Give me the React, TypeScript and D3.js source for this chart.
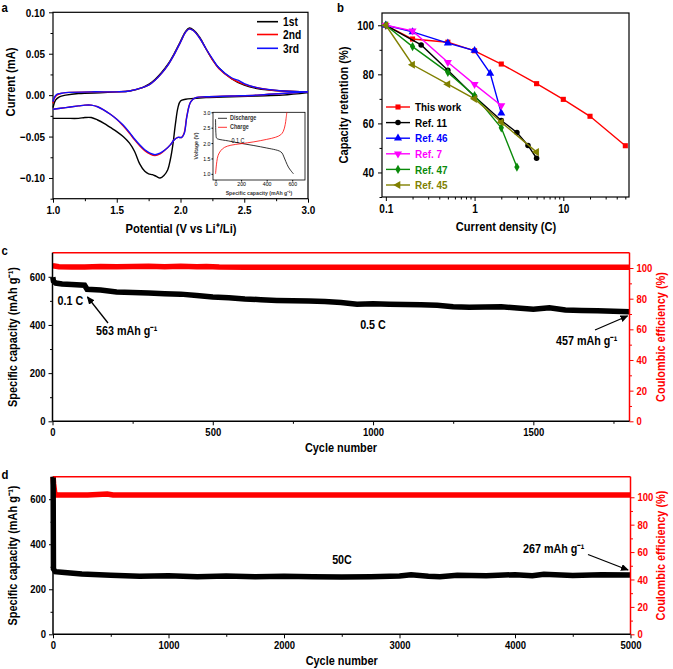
import React, { useEffect, useRef } from "react"
import * as d3 from "d3"

// ---- panel a: CV curves, [potential V, current mA]
const cv1stDown = [[3.0, 0.003], [2.8, 0.0], [2.6, -0.001], [2.4, -0.002], [2.2, -0.003], [2.1, -0.004], [2.04, -0.005], [2.0, -0.007], [1.98, -0.015], [1.96, -0.035], [1.94, -0.06], [1.92, -0.078], [1.9, -0.09], [1.87, -0.097], [1.84, -0.1], [1.81, -0.098], [1.78, -0.096], [1.75, -0.095], [1.72, -0.092], [1.68, -0.083], [1.64, -0.068], [1.6, -0.058], [1.55, -0.05], [1.5, -0.044], [1.45, -0.039], [1.4, -0.034], [1.35, -0.03], [1.3, -0.027], [1.25, -0.027], [1.2, -0.028], [1.1, -0.028], [1.0, -0.028]]
const cv1stUp = [[1.0, -0.015], [1.02, -0.006], [1.05, -0.002], [1.1, 0.0], [1.2, 0.002], [1.4, 0.003], [1.5, 0.004], [1.6, 0.005], [1.7, 0.009], [1.75, 0.013], [1.8, 0.019], [1.85, 0.027], [1.9, 0.037], [1.95, 0.05], [2.0, 0.065], [2.04, 0.077], [2.07, 0.081], [2.1, 0.079], [2.15, 0.07], [2.2, 0.056], [2.25, 0.043], [2.3, 0.033], [2.4, 0.02], [2.5, 0.012], [2.6, 0.008], [2.8, 0.005], [3.0, 0.004]]
const cv2ndDown = [[3.0, 0.004], [2.8, 0.002], [2.6, 0.0], [2.4, -0.001], [2.2, -0.002], [2.12, -0.003], [2.08, -0.008], [2.05, -0.025], [2.03, -0.045], [2.01, -0.051], [1.98, -0.051], [1.95, -0.054], [1.92, -0.06], [1.88, -0.066], [1.84, -0.071], [1.8, -0.073], [1.76, -0.071], [1.72, -0.067], [1.68, -0.061], [1.64, -0.054], [1.6, -0.046], [1.55, -0.037], [1.5, -0.029], [1.45, -0.023], [1.4, -0.018], [1.35, -0.014], [1.3, -0.012], [1.25, -0.012], [1.2, -0.013], [1.1, -0.015], [1.0, -0.017]]
const cv2ndUp = [[1.0, -0.01], [1.01, -0.004], [1.03, 0.0], [1.06, 0.002], [1.1, 0.003], [1.3, 0.004], [1.5, 0.004], [1.6, 0.005], [1.7, 0.009], [1.75, 0.012], [1.8, 0.018], [1.85, 0.026], [1.9, 0.036], [1.95, 0.049], [2.0, 0.064], [2.04, 0.076], [2.07, 0.08], [2.1, 0.078], [2.15, 0.069], [2.2, 0.056], [2.25, 0.043], [2.3, 0.032], [2.4, 0.02], [2.5, 0.013], [2.6, 0.009], [2.8, 0.005], [3.0, 0.004]]
const cv3rdDown = [[3.0, 0.004], [2.8, 0.002], [2.6, 0.0], [2.4, -0.001], [2.2, -0.002], [2.12, -0.003], [2.08, -0.008], [2.05, -0.026], [2.03, -0.046], [2.01, -0.051], [1.98, -0.051], [1.95, -0.054], [1.92, -0.06], [1.88, -0.066], [1.84, -0.07], [1.8, -0.072], [1.76, -0.07], [1.72, -0.066], [1.68, -0.06], [1.64, -0.053], [1.6, -0.045], [1.55, -0.036], [1.5, -0.029], [1.45, -0.023], [1.4, -0.018], [1.35, -0.014], [1.3, -0.012], [1.25, -0.012], [1.2, -0.013], [1.1, -0.015], [1.0, -0.017]]
const cv3rdUp = [[1.0, -0.008], [1.01, -0.003], [1.03, 0.001], [1.06, 0.002], [1.1, 0.003], [1.3, 0.004], [1.5, 0.004], [1.6, 0.005], [1.7, 0.009], [1.75, 0.012], [1.8, 0.018], [1.85, 0.026], [1.9, 0.036], [1.95, 0.049], [2.0, 0.064], [2.04, 0.076], [2.07, 0.08], [2.1, 0.078], [2.15, 0.069], [2.2, 0.056], [2.25, 0.044], [2.3, 0.033], [2.4, 0.021], [2.45, 0.018], [2.5, 0.014], [2.6, 0.009], [2.8, 0.005], [3.0, 0.004]]
const cvNames = ["1st", "2nd", "3rd"]
const potentialTicks = [1, 1.5, 2, 2.5, 3]
const currentTicks = [-0.1, -0.05, 0, 0.05, 0.1]

// inset, 0.1 C profile: [capacity mAh/g, voltage V]
const dischargeCurve = [[0, 2.78], [3, 2.3], [8, 2.16], [20, 2.13], [100, 2.07], [200, 1.99], [300, 1.92], [400, 1.84], [470, 1.78], [500, 1.74], [520, 1.68], [535, 1.55], [550, 1.4], [570, 1.22], [590, 1.1], [610, 1.0]]
const chargeCurve = [[0, 1.0], [10, 1.4], [20, 1.6], [40, 1.75], [70, 1.86], [120, 1.93], [200, 1.98], [300, 2.04], [400, 2.12], [470, 2.19], [510, 2.27], [530, 2.38], [545, 2.6], [552, 2.8], [558, 3.0]]

// ---- panel b: rate capability
const rateThisWork = [0.1, 0.2, 0.5, 1, 2, 5, 10, 20, 50]
const retThisWork = [100, 94.4, 93.1, 89.6, 84.2, 76.2, 69.8, 62.9, 50.9]
const rateRef11 = [0.1, 0.25, 0.5, 1, 2, 3, 4, 5]
const retRef11 = [100, 92, 81.7, 71, 61.2, 56.3, 51, 45.8]
const rateRef46 = [0.1, 0.2, 0.5, 1, 1.5, 2]
const retRef46 = [100, 97.3, 92.7, 89.7, 80.4, 64.2]
const rateRef7 = [0.1, 0.2, 0.5, 1, 2]
const retRef7 = [100, 97.7, 84.9, 75.9, 67.3]
const rateRef47 = [0.1, 0.2, 0.5, 1, 2, 3]
const retRef47 = [100, 91.3, 80.8, 71.3, 58.2, 42.2]
const rateRef45 = [0.1, 0.2, 0.5, 1, 2, 5]
const retRef45 = [100, 83.9, 76, 70, 60.5, 48.3]

// ---- panel c: 0.1 C then 0.5 C cycling
const cyclesC = [1, 3, 10, 30, 60, 100, 108, 150, 200, 250, 300, 350, 400, 450, 500, 550, 600, 650, 700, 750, 800, 850, 900, 950, 1000, 1050, 1100, 1150, 1200, 1250, 1300, 1350, 1400, 1450, 1500, 1550, 1600, 1650, 1700, 1750, 1800]
const capacityC = [598, 582, 574, 570, 568, 565, 548, 545, 537, 535, 533, 530, 528, 522, 516, 513, 508, 505, 502, 500, 499, 497, 493, 486, 488, 486, 485, 484, 482, 476, 474, 475, 476, 470, 465, 471, 462, 460, 459, 457, 455]
const ceCyclesC = [1, 20, 60, 100, 150, 200, 250, 300, 350, 400, 450, 480, 520, 600, 800, 1000, 1200, 1400, 1600, 1800]
const ceC = [101.5, 100.9, 100.6, 100.7, 101, 100.9, 101, 101.1, 100.9, 101.2, 100.9, 101, 100.6, 100.5, 100.5, 100.5, 100.5, 100.5, 100.5, 100.5]

// ---- panel d: 50 C cycling
const cyclesD = [1, 4, 20, 100, 250, 500, 750, 1000, 1250, 1500, 1750, 2000, 2250, 2500, 2750, 3000, 3100, 3250, 3350, 3500, 3750, 4000, 4150, 4250, 4500, 4750, 5000]
const capacityD = [700, 290, 278, 274, 268, 262, 258, 260, 256, 259, 256, 258, 256, 254, 256, 259, 264, 258, 256, 262, 260, 265, 260, 267, 261, 264, 263]
const ceCyclesD = [1, 5, 15, 30, 100, 300, 470, 520, 1000, 1500, 2000, 2500, 3000, 3500, 4000, 4500, 5000]
const ceD = [115, 110, 103, 101.7, 101.6, 101.6, 102.4, 101.6, 101.6, 101.6, 101.6, 101.6, 101.6, 101.6, 101.6, 101.6, 101.6]

const FONT = "'Liberation Sans', Arial, Helvetica, sans-serif"
const RED = "#ff0000"
const SQUEEZE = 0.84 // the figure uses a condensed Helvetica

function bold(sel: any, size: number, color = "#000") {
  return sel.attr("font-family", FONT).attr("font-size", size).attr("font-weight", "bold").attr("fill", color)
}

function tidyAxis(g: any, size: number, color = "#000") {
  g.select(".domain").remove()
  g.selectAll("line").attr("stroke", color).attr("stroke-width", 1)
  bold(g.selectAll("text"), size, color)
}

function drawA(svg: any) {
  const x = d3.scaleLinear().domain([1, 3]).range([53, 308])
  const y = d3.scaleLinear().domain([-0.125, 0.1]).range([198.7, 12.3])
  const g = svg.append("g")

  g.append("g").attr("transform", "translate(0,198.7)")
    .call(d3.axisBottom(x).tickValues([1.25, 1.75, 2.25, 2.75]).tickFormat(() => "").tickSize(2.5)).call(tidyAxis, 10)
  g.append("g").attr("transform", "translate(0,198.7)")
    .call(d3.axisBottom(x).tickValues(potentialTicks).tickFormat(d3.format(".1f")).tickSize(4).tickPadding(3)).call(tidyAxis, 11.8)
  g.append("g").attr("transform", "translate(53,0)")
    .call(d3.axisLeft(y).tickValues([-0.125, -0.075, -0.025, 0.025, 0.075]).tickFormat(() => "").tickSize(2.5)).call(tidyAxis, 10)
  g.append("g").attr("transform", "translate(53,0)")
    .call(d3.axisLeft(y).tickValues(currentTicks).tickFormat(d3.format(".2f")).tickSize(4).tickPadding(4)).call(tidyAxis, 11.8)
  g.append("rect").attr("x", 53).attr("y", 12.3).attr("width", 255).attr("height", 186.4)
    .attr("fill", "none").attr("stroke", "#000").attr("stroke-width", 1.2)

  const line = d3.line<number[]>().x(d => x(d[0])).y(d => y(d[1])).curve(d3.curveCatmullRom)
  const cycles = [
    { color: "#000", parts: [cv1stDown, cv1stUp] },
    { color: RED, parts: [cv2ndDown, cv2ndUp] },
    { color: "#1010ff", parts: [cv3rdDown, cv3rdUp] },
  ]
  cycles.forEach(c => c.parts.forEach(p => {
    g.append("path").datum(p).attr("d", line).attr("fill", "none").attr("stroke", c.color).attr("stroke-width", 1.4)
  }))

  // legend
  cycles.forEach((c, i) => {
    const ly = [21.7, 34.5, 48.3][i]
    g.append("line").attr("x1", 257).attr("x2", 278).attr("y1", ly).attr("y2", ly).attr("stroke", c.color).attr("stroke-width", 1.6)
    bold(g.append("text"), 12.2).attr("x", 283).attr("y", ly + 4.4).text(cvNames[i])
  })

  // axis titles
  bold(g.append("text"), 13.3).attr("x", 181).attr("y", 233).attr("text-anchor", "middle").text("Potential (V vs Li⁺/Li)")
  bold(g.append("text"), 13.3).attr("transform", "translate(15,82) rotate(-90)").attr("text-anchor", "middle").text("Current (mA)")
  bold(g.append("text"), 13.5).attr("x", 1.5).attr("y", 12).text("a")

  // inset
  const ix = d3.scaleLinear().domain([-20, 700]).range([213, 305])
  const iy = d3.scaleLinear().domain([0.8, 3.0]).range([180, 112.3])
  const ig = g.append("g")
  ig.append("rect").attr("x", 213).attr("y", 112.3).attr("width", 92).attr("height", 67.7).attr("fill", "#fff")
  ig.append("g").attr("transform", "translate(0,180)")
    .call(d3.axisBottom(ix).tickValues([0, 200, 400, 600]).tickSize(1.5).tickPadding(0.5)).call(tidyAxis, 6.2)
  ig.append("g").attr("transform", "translate(213,0)")
    .call(d3.axisLeft(iy).tickValues([1, 1.5, 2, 2.5, 3]).tickFormat(d3.format(".1f")).tickSize(1.5).tickPadding(1)).call(tidyAxis, 6.2)
  ig.selectAll("text").attr("font-weight", "normal")
  ig.append("rect").attr("x", 213).attr("y", 112.3).attr("width", 92).attr("height", 67.7)
    .attr("fill", "none").attr("stroke", "#000").attr("stroke-width", 0.8)
  const iline = d3.line<number[]>().x(d => ix(d[0])).y(d => iy(d[1])).curve(d3.curveCatmullRom)
  ig.append("path").datum(dischargeCurve).attr("d", iline).attr("fill", "none").attr("stroke", "#000").attr("stroke-width", 0.8)
  ig.append("path").datum(chargeCurve).attr("d", iline).attr("fill", "none").attr("stroke", RED).attr("stroke-width", 0.8)
  ;[["Discharge", "#000", 118.3], ["Charge", RED, 127.3]].forEach(([name, col, ly]: any) => {
    ig.append("line").attr("x1", 218).attr("x2", 227).attr("y1", ly).attr("y2", ly).attr("stroke", col).attr("stroke-width", 0.8)
    ig.append("text").attr("x", 230).attr("y", ly + 2).attr("font-family", FONT).attr("font-size", 6.5).attr("font-weight", "bold").attr("fill", "#333").text(name)
  })
  ig.append("text").attr("x", 231.5).attr("y", 143).attr("font-family", FONT).attr("font-size", 6.5).text("0.1 C")
  ig.append("text").attr("x", 259).attr("y", 194.5).attr("text-anchor", "middle").attr("font-family", FONT).attr("font-size", 6.2)
    .attr("font-weight", "bold").attr("fill", "#333").text("Specific capacity (mAh g⁻¹)")
  ig.append("text").attr("transform", "translate(198,146) rotate(-90)").attr("text-anchor", "middle")
    .attr("font-family", FONT).attr("font-size", 6.2).attr("font-weight", "bold").attr("fill", "#333").text("Voltage (V)")
}

function drawB(svg: any) {
  const x = d3.scaleLog().domain([0.0905, 55]).range([382, 629])
  const y = d3.scaleLinear().domain([30, 105]).range([197, 13])
  const g = svg.append("g")
  const minorX = [0.2, 0.3, 0.4, 0.5, 0.6, 0.7, 0.8, 0.9, 2, 3, 4, 5, 6, 7, 8, 9, 20, 30, 40, 50]

  g.append("g").attr("transform", "translate(0,197)")
    .call(d3.axisBottom(x).tickValues(minorX).tickFormat(() => "").tickSize(2.5)).call(tidyAxis, 10)
  g.append("g").attr("transform", "translate(0,197)")
    .call(d3.axisBottom(x).tickValues([0.1, 1, 10]).tickFormat(d3.format("~g")).tickSize(4).tickPadding(3)).call(tidyAxis, 12)
  g.append("g").attr("transform", "translate(382,0)")
    .call(d3.axisLeft(y).tickValues([30, 50, 70, 90]).tickFormat(() => "").tickSize(2.5)).call(tidyAxis, 10)
  g.append("g").attr("transform", "translate(382,0)")
    .call(d3.axisLeft(y).tickValues([40, 60, 80, 100]).tickSize(4).tickPadding(4)).call(tidyAxis, 12)
  g.append("rect").attr("x", 382).attr("y", 13).attr("width", 247).attr("height", 184)
    .attr("fill", "none").attr("stroke", "#000").attr("stroke-width", 1.2)

  const series = [
    { name: "This work", color: RED, text: "#000", shape: d3.symbolSquare, rot: 0, size: 26, rates: rateThisWork, ret: retThisWork },
    { name: "Ref. 11", color: "#000", text: "#000", shape: d3.symbolCircle, rot: 0, size: 24, rates: rateRef11, ret: retRef11 },
    { name: "Ref. 46", color: "#0000ff", text: "#0000ff", shape: d3.symbolTriangle, rot: 0, size: 28, rates: rateRef46, ret: retRef46 },
    { name: "Ref. 7", color: "#ff00ff", text: "#ff00ff", shape: d3.symbolTriangle, rot: 180, size: 28, rates: rateRef7, ret: retRef7 },
    { name: "Ref. 47", color: "#0a8a0a", text: "#0a8a0a", shape: d3.symbolDiamond, rot: 0, size: 24, rates: rateRef47, ret: retRef47 },
    { name: "Ref. 45", color: "#808000", text: "#808000", shape: d3.symbolTriangle, rot: -90, size: 28, rates: rateRef45, ret: retRef45 },
  ]
  series.forEach(s => {
    const pts = s.rates.map((r, i) => [r, s.ret[i]])
    g.append("path").datum(pts).attr("d", d3.line<number[]>().x(d => x(d[0])).y(d => y(d[1])))
      .attr("fill", "none").attr("stroke", s.color).attr("stroke-width", 1.4)
    g.selectAll(null).data(pts).enter().append("path")
      .attr("d", d3.symbol().type(s.shape).size(s.size))
      .attr("transform", (d: number[]) => `translate(${x(d[0])},${y(d[1])}) rotate(${s.rot})`)
      .attr("fill", s.color)
  })

  series.forEach((s, i) => {
    const ly = 107 + i * 15.6
    g.append("line").attr("x1", 386).attr("x2", 410).attr("y1", ly).attr("y2", ly).attr("stroke", s.color).attr("stroke-width", 1.4)
    g.append("path").attr("d", d3.symbol().type(s.shape).size(s.size)).attr("transform", `translate(398,${ly}) rotate(${s.rot})`).attr("fill", s.color)
    bold(g.append("text"), 11.8, s.text).attr("x", 415).attr("y", ly + 4.2).text(s.name)
  })

  bold(g.append("text"), 13.2).attr("x", 506).attr("y", 231).attr("text-anchor", "middle").text("Current density (C)")
  bold(g.append("text"), 13.2).attr("transform", "translate(348,105) rotate(-90)").attr("text-anchor", "middle").text("Capacity retention (%)")
  bold(g.append("text"), 13.5).attr("x", 337).attr("y", 12).text("b")
}

function drawCycling(svg: any, o: any) {
  const x = d3.scaleLinear().domain([0, o.xMax]).range([o.left, o.right])
  const yL = d3.scaleLinear().domain([0, 700]).range([o.bottom, o.top])
  const yR = d3.scaleLinear().domain([0, o.ceMax]).range([o.bottom, o.top])
  const g = svg.append("g")

  g.append("g").attr("transform", `translate(0,${o.bottom})`)
    .call(d3.axisBottom(x).tickValues(o.xMinor).tickFormat(() => "").tickSize(2.5)).call(tidyAxis, 10)
  g.append("g").attr("transform", `translate(0,${o.bottom})`)
    .call(d3.axisBottom(x).tickValues(o.xTicks).tickFormat(d3.format("d")).tickSize(4).tickPadding(3)).call(tidyAxis, 11.3)
  g.append("g").attr("transform", `translate(${o.left},0)`)
    .call(d3.axisLeft(yL).tickValues([100, 300, 500]).tickFormat(() => "").tickSize(2.5)).call(tidyAxis, 10)
  g.append("g").attr("transform", `translate(${o.left},0)`)
    .call(d3.axisLeft(yL).tickValues([0, 200, 400, 600]).tickFormat(d3.format("d")).tickSize(4).tickPadding(3)).call(tidyAxis, 11.3)
  g.append("g").attr("transform", `translate(${o.right},0)`)
    .call(d3.axisRight(yR).tickValues([10, 30, 50, 70, 90]).tickFormat(() => "").tickSize(2.5)).call(tidyAxis, 10, RED)
  g.append("g").attr("transform", `translate(${o.right},0)`)
    .call(d3.axisRight(yR).tickValues([0, 20, 40, 60, 80, 100]).tickSize(4).tickPadding(3)).call(tidyAxis, 11.3, RED)

  const line = d3.line<number[]>().x(d => x(d[0])).y(d => d[2] ? yR(d[1]) : yL(d[1]))
  const ce = o.ceCycles.map((c: number, i: number) => [c, o.ce[i], 1])
  g.append("path").datum(ce).attr("d", line).attr("fill", "none").attr("stroke", RED).attr("stroke-width", 5.5)
  const cap = o.cycles.map((c: number, i: number) => [c, o.capacity[i], 0])
  g.append("path").datum(cap).attr("d", line).attr("fill", "none").attr("stroke", "#000").attr("stroke-width", 5.5)

  // frame: black left/bottom, red top/right
  g.append("line").attr("x1", o.left).attr("x2", o.right).attr("y1", o.top).attr("y2", o.top).attr("stroke", RED).attr("stroke-width", 1.5)
  g.append("line").attr("x1", o.right).attr("x2", o.right).attr("y1", o.top).attr("y2", o.bottom).attr("stroke", RED).attr("stroke-width", 1.5)
  g.append("line").attr("x1", o.left).attr("x2", o.left).attr("y1", o.top).attr("y2", o.bottom).attr("stroke", "#000").attr("stroke-width", 1.5)
  g.append("line").attr("x1", o.left).attr("x2", o.right).attr("y1", o.bottom).attr("y2", o.bottom).attr("stroke", "#000").attr("stroke-width", 1.5)

  const mid = (o.top + o.bottom) / 2
  bold(g.append("text"), 13).attr("x", (o.left + o.right) / 2).attr("y", o.bottom + 31).attr("text-anchor", "middle").text("Cycle number")
  bold(g.append("text"), 13).attr("transform", `translate(17,${mid}) rotate(-90)`).attr("text-anchor", "middle").text("Specific capacity (mAh g⁻¹)")
  bold(g.append("text"), 13, RED).attr("transform", `translate(665,${mid}) rotate(-90)`).attr("text-anchor", "middle").text("Coulombic efficiency (%)")
  bold(g.append("text"), 13.5).attr("x", 1.5).attr("y", o.top + 2).text(o.label)
  return g
}

function arrow(g: any, x1: number, y1: number, x2: number, y2: number) {
  g.append("line").attr("x1", x1).attr("y1", y1).attr("x2", x2).attr("y2", y2)
    .attr("stroke", "#000").attr("stroke-width", 1.3).attr("marker-end", "url(#head)")
}

function note(g: any, x: number, y: number, label: string, anchor = "start") {
  bold(g.append("text"), 12.8).attr("x", x).attr("y", y).attr("text-anchor", anchor).text(label)
}

export default function App() {
  const ref = useRef<SVGSVGElement>(null)

  useEffect(() => {
    const svg = d3.select(ref.current)
    svg.selectAll("*").remove()
    svg.append("defs").append("marker").attr("id", "head").attr("markerUnits", "userSpaceOnUse")
      .attr("markerWidth", 8).attr("markerHeight", 7).attr("refX", 7).attr("refY", 3.5).attr("orient", "auto")
      .append("path").attr("d", "M0,0 L8,3.5 L0,7 z").attr("fill", "#000")

    drawA(svg)
    drawB(svg)

    const gc = drawCycling(svg, {
      label: "c", left: 52.5, right: 629.5, top: 252.7, bottom: 421.3, xMax: 1800, ceMax: 110,
      xTicks: [0, 500, 1000, 1500], xMinor: [250, 750, 1250, 1750],
      cycles: cyclesC, capacity: capacityC, ceCycles: ceCyclesC, ce: ceC,
    })
    note(gc, 57.5, 304.5, "0.1 C")
    note(gc, 96, 335, "563 mAh g⁻¹")
    arrow(gc, 108, 323, 87.5, 297)
    note(gc, 373, 329, "0.5 C", "middle")
    note(gc, 556, 344.5, "457 mAh g⁻¹")
    arrow(gc, 595, 330, 627.5, 316)

    const gd = drawCycling(svg, {
      label: "d", left: 53, right: 630.5, top: 476.7, bottom: 634.3, xMax: 5000, ceMax: 115,
      xTicks: [0, 1000, 2000, 3000, 4000, 5000], xMinor: [500, 1500, 2500, 3500, 4500],
      cycles: cyclesD, capacity: capacityD, ceCycles: ceCyclesD, ce: ceD,
    })
    note(gd, 342, 564, "50C", "middle")
    note(gd, 523, 552.5, "267 mAh g⁻¹")
    arrow(gd, 588, 554.5, 628, 570)

    // squeeze every label horizontally to mimic the condensed typeface
    svg.selectAll("text").each(function (this: any) {
      const len = this.getComputedTextLength()
      if (len > 0) d3.select(this).attr("textLength", len * SQUEEZE).attr("lengthAdjust", "spacingAndGlyphs")
    })
  }, [])

  return (
    <svg ref={ref} width={673} height={669} style={{ position: "absolute", left: 0, top: 0, background: "#fff" }} />
  )
}
